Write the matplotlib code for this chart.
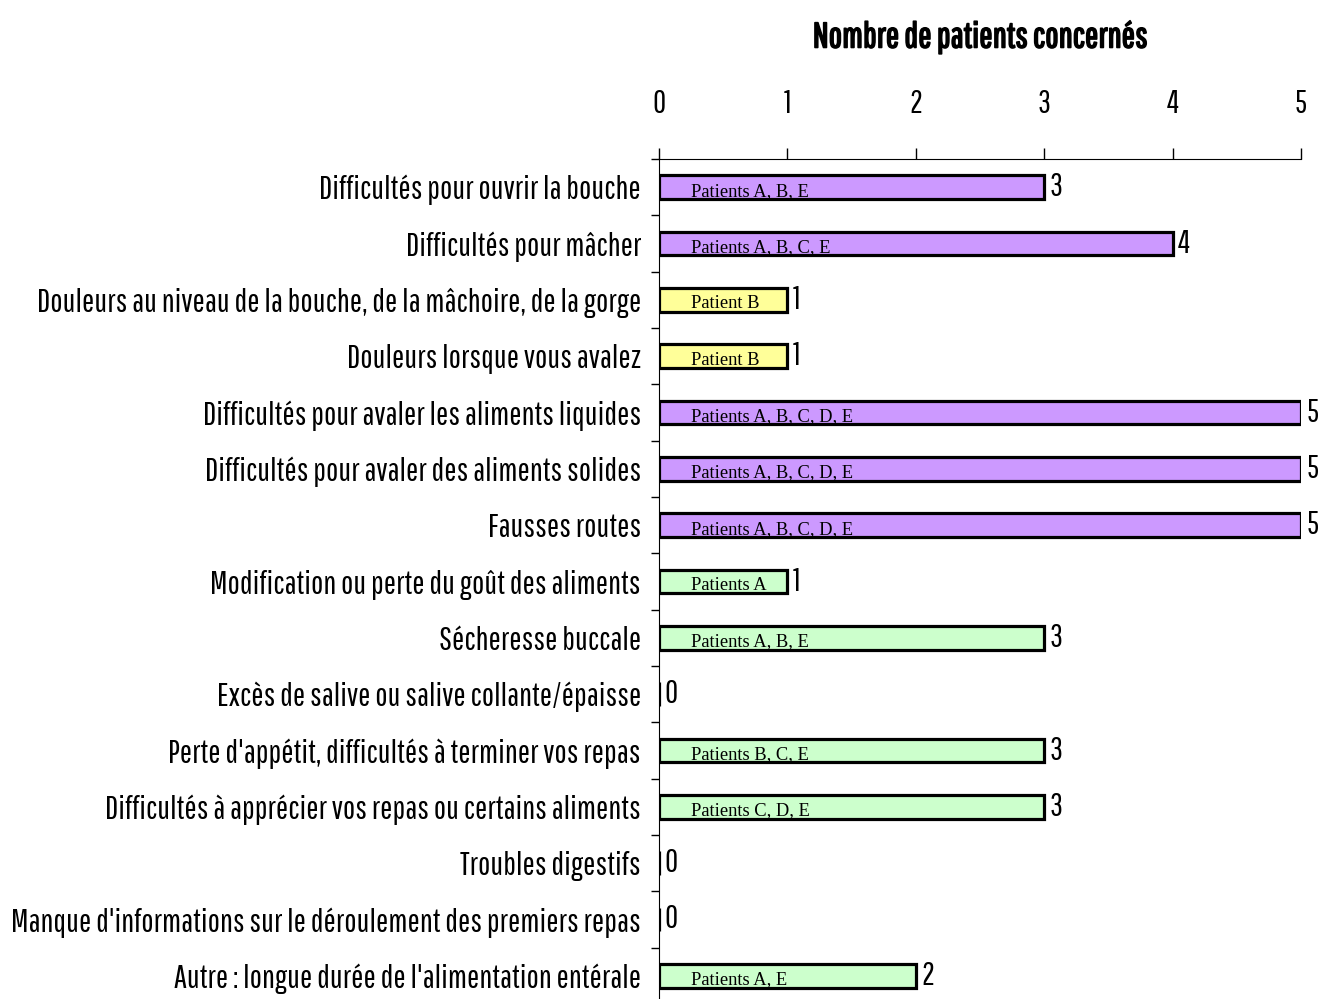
import numpy as np
import matplotlib
matplotlib.use("Agg")
import matplotlib.pyplot as plt
import matplotlib.patheffects as pe

# narrow sans for labels, serif for the in-bar patient notes
narrow = ["Pathway Gothic One", "Archivo Narrow", "DejaVu Sans"]
serif = ["Liberation Serif", "DejaVu Serif"]

### DATA ######################################################################
categories = [
    "Difficultés pour ouvrir la bouche",
    "Difficultés pour mâcher",
    "Douleurs au niveau de la bouche, de la mâchoire, de la gorge",
    "Douleurs lorsque vous avalez",
    "Difficultés pour avaler les aliments liquides",
    "Difficultés pour avaler des aliments solides",
    "Fausses routes",
    "Modification ou perte du goût des aliments",
    "Sécheresse buccale",
    "Excès de salive ou salive collante/épaisse",
    "Perte d'appétit, difficultés à terminer vos repas",
    "Difficultés à apprécier vos repas ou certains aliments",
    "Troubles digestifs",
    "Manque d'informations sur le déroulement des premiers repas",
    "Autre : longue durée de l'alimentation entérale",
]
counts = [3, 4, 1, 1, 5, 5, 5, 1, 3, 0, 3, 3, 0, 0, 2]
patients = [
    "Patients A, B, E", "Patients A, B, C, E", "Patient B", "Patient B",
    "Patients A, B, C, D, E", "Patients A, B, C, D, E", "Patients A, B, C, D, E",
    "Patients A", "Patients A, B, E", "", "Patients B, C, E", "Patients C, D, E",
    "", "", "Patients A, E",
]
groups = ["p", "p", "y", "y", "p", "p", "p", "g", "g", "g", "g", "g", "g", "g", "g"]
group_colors = {"p": "#CC99FF", "y": "#FFFF99", "g": "#CCFFCC"}

##### PLOT ####################################################################
fig = plt.figure(figsize=(13.21, 9.99), dpi=100)
ax = fig.add_axes([0.4989, -0.005, 0.486, 0.8458])

y = np.arange(len(categories))
ax.barh(y, counts, height=0.42, color=[group_colors[g] for g in groups],
        edgecolor="black", linewidth=2.3)

for yi, c, p in zip(y, counts, patients):
    ax.text(c + 0.04, yi, str(c), va="center", ha="left",
            fontsize=23, family=narrow)
    if p:
        ax.text(0.245, yi + 0.07, p, va="center", ha="left",
                fontsize=13.3, family=serif)

ax.set_xlim(0, 5)
ax.set_ylim(len(categories) - 0.5, -0.5)
ax.xaxis.tick_top()
ax.set_xticks(range(6))
ax.tick_params(axis="x", direction="out", length=8, width=1, pad=21,
               labelsize=23)
for lab in ax.get_xticklabels():
    lab.set_family(narrow)

ax.set_yticks(y)
ax.set_yticklabels(categories, family=narrow, fontsize=23.5)
ax.tick_params(axis="y", length=0, pad=13)
ax.set_yticks(np.arange(-0.5, len(categories), 1), minor=True)
ax.tick_params(axis="y", which="minor", length=6, width=1, direction="out")

for s in ["right", "bottom"]:
    ax.spines[s].set_visible(False)

fig.text(0.742, 0.963, "Nombre de patients concernés", ha="center", va="center",
         fontsize=25.5, family=narrow,
         path_effects=[pe.withStroke(linewidth=1.2, foreground="black")])

fig.savefig("out.png", dpi=100)
